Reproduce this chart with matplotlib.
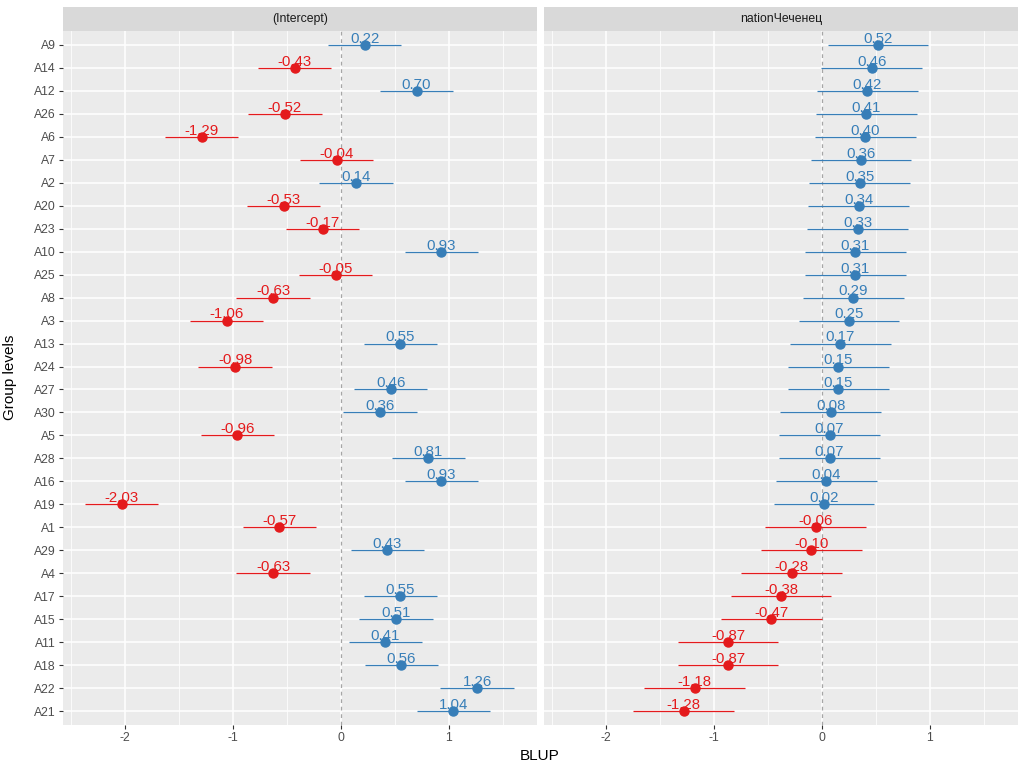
import matplotlib
matplotlib.use("Agg")
import matplotlib.pyplot as plt

plt.rcParams['font.family'] = ['Liberation Sans', 'DejaVu Sans']

levels = ["A9", "A14", "A12", "A26", "A6", "A7", "A2", "A20", "A23", "A10",
          "A25", "A8", "A3", "A13", "A24", "A27", "A30", "A5", "A28", "A16",
          "A19", "A1", "A29", "A4", "A17", "A15", "A11", "A18", "A22", "A21"]

intercept = [0.22, -0.43, 0.70, -0.52, -1.29, -0.04, 0.14, -0.53, -0.17, 0.93,
             -0.05, -0.63, -1.06, 0.55, -0.98, 0.46, 0.36, -0.96, 0.81, 0.93,
             -2.03, -0.57, 0.43, -0.63, 0.55, 0.51, 0.41, 0.56, 1.26, 1.04]
intercept_hw = [0.34] * 30

nation = [0.52, 0.46, 0.42, 0.41, 0.40, 0.36, 0.35, 0.34, 0.33, 0.31,
          0.31, 0.29, 0.25, 0.17, 0.15, 0.15, 0.08, 0.07, 0.07, 0.04,
          0.02, -0.06, -0.10, -0.28, -0.38, -0.47, -0.87, -0.87, -1.18, -1.28]
nation_hw = [0.466] * 30

panels = ["(Intercept)", "nationЧеченец"]
xticks = [-2, -1, 0, 1]
xtick_labels = ["-2", "-1", "0", "1"]

RED = "#E41A1C"
BLUE = "#377EB8"

fig = plt.figure(figsize=(10.24, 7.68), dpi=100)
W, H = 1024, 768
ax_top, ax_bot = 31, 725
strip_top = 7
lefts = [63, 544]
pw = 474

n = len(levels)
ypos = list(range(n))

for i, (vals, hws, title) in enumerate(zip([intercept, nation], [intercept_hw, nation_hw], panels)):
    x0 = lefts[i]
    ax = fig.add_axes([x0 / W, 1 - ax_bot / H, pw / W, (ax_bot - ax_top) / H])
    ax.set_facecolor("#EBEBEB")
    ax.set_xlim(-2.574, 1.815)
    ax.set_ylim(n - 1 + 0.6, -0.6)
    for s in ax.spines.values():
        s.set_visible(False)
    # grid
    for xm in [-2.5, -1.5, -0.5, 0.5, 1.5]:
        ax.axvline(xm, color="white", lw=0.55, zorder=0)
    for xM in xticks:
        ax.axvline(xM, color="white", lw=1.1, zorder=0)
    for y in ypos:
        ax.axhline(y, color="white", lw=1.1, zorder=0)
    ax.axvline(0, color="#A6A6A6", lw=0.9, ls=(0, (3, 3)), zorder=1)
    for y, v, hw in zip(ypos, vals, hws):
        c = RED if v < 0 else BLUE
        ax.plot([v - hw, v + hw], [y, y], color=c, lw=0.9, zorder=2, solid_capstyle='butt')
        ax.plot([v], [y], 'o', color=c, ms=6.5, zorder=3)
        ax.annotate(f"{v:.2f}", (v, y), xytext=(0, 1.5), textcoords="offset points",
                    ha="center", va="baseline", color=c, fontsize=10.8, zorder=4)
    ax.set_xticks(xticks)
    ax.set_xticklabels(xtick_labels)
    ax.tick_params(axis='x', colors="#333333", labelcolor="#4D4D4D", labelsize=8.8,
                   length=3, width=0.8, pad=2)
    ax.set_yticks(ypos)
    if i == 0:
        ax.set_yticklabels(levels)
        ax.tick_params(axis='y', colors="#333333", labelcolor="#4D4D4D", labelsize=8.8,
                       length=3, width=0.8, pad=2)
    else:
        ax.set_yticklabels([])
        ax.tick_params(axis='y', length=0)
    # strip
    sax = fig.add_axes([x0 / W, 1 - ax_top / H, pw / W, (ax_top - strip_top) / H])
    sax.set_facecolor("#D9D9D9")
    sax.set_xticks([]); sax.set_yticks([])
    for s in sax.spines.values():
        s.set_visible(False)
    sax.text(0.5, 0.5, title, ha="center", va="center", fontsize=8.8, color="#1A1A1A",
             transform=sax.transAxes)

fig.text(540 / W, 1 - 756 / H, "BLUP", ha="center", va="center", fontsize=11, color="black")
fig.text(10 / W, 1 - 377 / H, "Group levels", ha="center", va="center", rotation=90,
         fontsize=11, color="black")

fig.savefig("out.png", dpi=100, facecolor="white")
